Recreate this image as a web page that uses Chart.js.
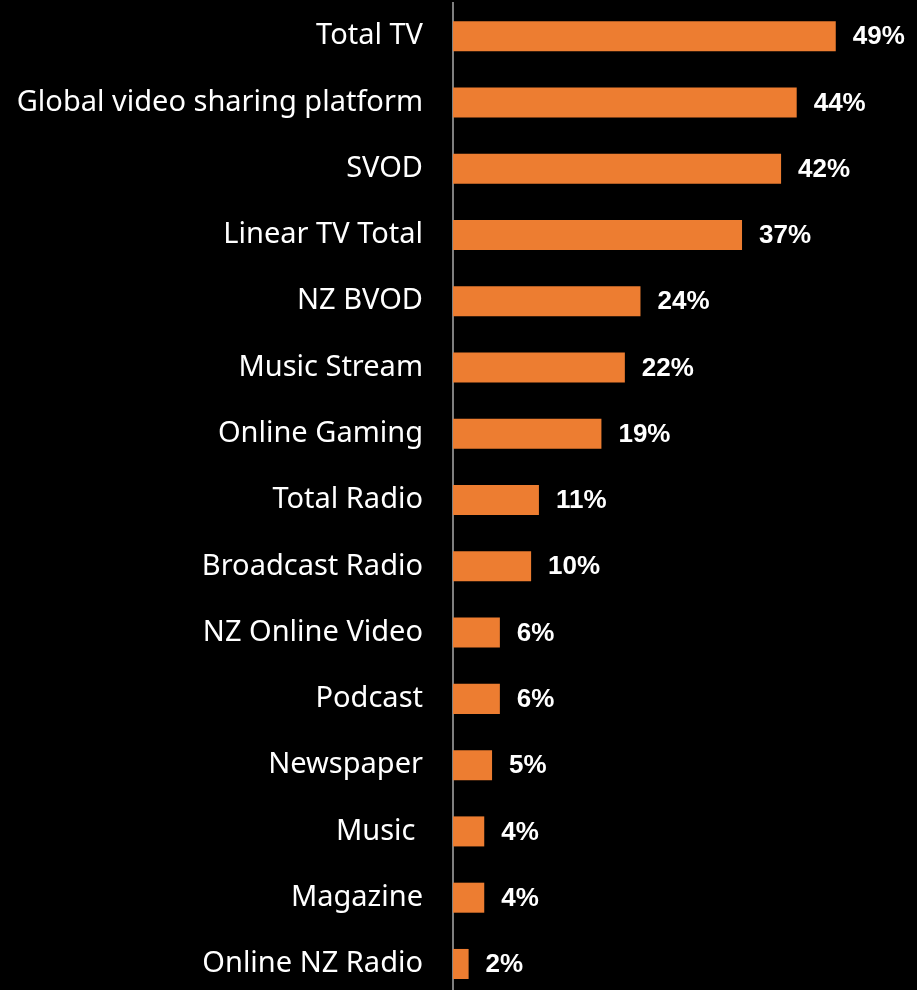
<!DOCTYPE html>
<html>
<head>
<meta charset="utf-8">
<script src="https://cdn.jsdelivr.net/npm/chart.js@4/dist/chart.umd.min.js"></script>
<style>
  html, body { margin: 0; padding: 0; background: #000; overflow: hidden; }
  #wrap { position: relative; width: 917px; height: 1000px; }
</style>
</head>
<body>
<div id="wrap"><canvas id="chart"></canvas></div>
<script>
// Share of audience by media type
const categories = [
  "Total TV",
  "Global video sharing platform",
  "SVOD",
  "Linear TV Total",
  "NZ BVOD",
  "Music Stream",
  "Online Gaming",
  "Total Radio",
  "Broadcast Radio",
  "NZ Online Video",
  "Podcast",
  "Newspaper",
  "Music ",
  "Magazine",
  "Online NZ Radio"
];
const values = [49, 44, 42, 37, 24, 22, 19, 11, 10, 6, 6, 5, 4, 4, 2];

// Writes the percentage just past the end of each bar
const valueLabels = {
  id: 'valueLabels',
  afterDatasetsDraw(chart) {
    const ctx = chart.ctx;
    const meta = chart.getDatasetMeta(0);
    ctx.save();
    ctx.fillStyle = '#ffffff';
    ctx.font = 'bold 26px "Liberation Sans", Arial, sans-serif';
    ctx.textAlign = 'left';
    ctx.textBaseline = 'middle';
    meta.data.forEach((bar, i) => {
      ctx.fillText(values[i] + '%', bar.x + 17, bar.y + 1);
    });
    ctx.restore();
  }
};

new Chart(document.getElementById('chart'), {
  type: 'bar',
  data: {
    labels: categories,
    datasets: [{
      data: values,
      backgroundColor: '#ED7D31',
      borderWidth: 0,
      barPercentage: 0.453,
      categoryPercentage: 1
    }]
  },
  options: {
    indexAxis: 'y',
    responsive: true,
    maintainAspectRatio: false,
    animation: false,
    layout: { padding: { top: 3, right: 0, bottom: 0, left: 0 } },
    plugins: {
      legend: { display: false },
      tooltip: { enabled: false }
    },
    scales: {
      x: {
        display: false,
        min: 0,
        max: 59.4
      },
      y: {
        grid: { display: false, drawTicks: true, tickLength: 30 },
        border: { display: true, color: '#7f7f7f', width: 2 },
        ticks: {
          color: '#ffffff',
          padding: 0,
          font: { family: '"Noto Sans", sans-serif', size: 29, lineHeight: 0.2 }
        },
        afterFit(scale) { scale.width = 453; }
      }
    }
  },
  plugins: [valueLabels]
});
</script>
</body>
</html>
